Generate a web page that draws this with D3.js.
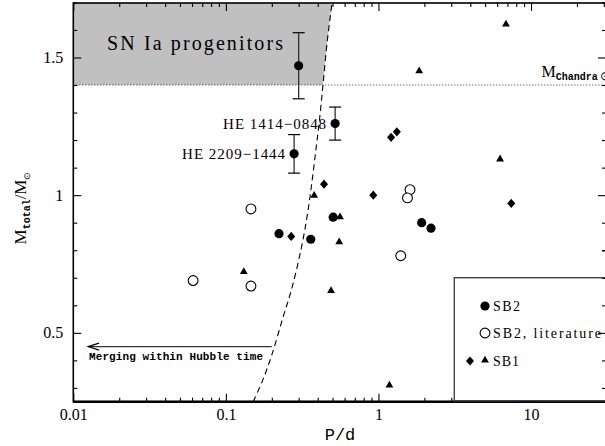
<!DOCTYPE html>
<html>
<head>
<meta charset="utf-8">
<script src="https://cdn.jsdelivr.net/npm/d3@7"></script>
<style>
body{margin:0;background:#fff;}
svg{display:block;}
</style>
</head>
<body>
<svg id="chart" width="605" height="446"></svg>
<script>
// SB2 (filled circles), first three carry error bars and names
var sb2P = [0.30, 0.52, 0.28, 0.505, 0.36, 0.223, 1.92, 2.21];
var sb2M = [1.47, 1.26, 1.15, 0.92, 0.84, 0.86, 0.90, 0.88];
var errLo = [1.35, 1.20, 1.08];
var errHi = [1.59, 1.32, 1.22];
var sb2Names = ["", "HE 1414\u22120848", "HE 2209\u22121444"];

// SB2 from the literature (open circles)
var litP = [0.061, 0.146, 0.146, 1.61, 1.55, 1.40];
var litM = [0.69, 0.67, 0.95, 1.02, 0.99, 0.78];

// SB1, diamonds and triangles
var diaP = [0.268, 0.44, 0.925, 1.21, 1.32, 7.42];
var diaM = [0.85, 1.04, 1.00, 1.21, 1.23, 0.97];
var triP = [0.131, 0.379, 0.56, 0.553, 0.489, 1.18, 1.85, 6.85, 6.27];
var triM = [0.723, 1.00, 0.922, 0.831, 0.654, 0.311, 1.452, 1.622, 1.132];

// merging within a Hubble time limit (dashed)
var hubbleP = [0.151, 0.175, 0.200, 0.235, 0.270, 0.310, 0.340, 0.365, 0.390, 0.410, 0.433, 0.460, 0.497];
var hubbleM = [0.25, 0.33, 0.42, 0.55, 0.66, 0.80, 0.92, 1.04, 1.17, 1.27, 1.40, 1.55, 1.70];

var mChandra = 1.4;
var arrowP = [0.2, 0.0125];
var arrowM = 0.45;

var xMajor = [0.01, 0.1, 1, 10];
var xLabels = ["0.01", "0.1", "1", "10"];
var yMajor = [0.5, 1, 1.5];
var yLabels = ["0.5", "1", "1.5"];

var pLeft = 73.3, pRight = 606, pTop = 3, pBottom = 401.7;
var serif = "'Liberation Serif', 'Times New Roman', serif";
var mono = "'Liberation Mono', 'Courier New', monospace";

var svg = d3.select("#chart");

var x = d3.scaleLog().domain([0.01, 31]).range([pLeft, pRight]);
var y = d3.scaleLinear().domain([0.25, 1.7]).range([pBottom, pTop - 0.6]);

svg.append("defs").append("clipPath").attr("id", "plotclip")
    .append("rect").attr("x", pLeft).attr("y", pTop).attr("width", pRight - pLeft).attr("height", pBottom - pTop);

var plot = svg.append("g").attr("clip-path", "url(#plotclip)");

// SN Ia progenitor region
var hub = hubbleP.map(function(p, i){ return [p, hubbleM[i]]; });
var region = [[0.01, mChandra]].concat(hub.filter(function(d){ return d[1] >= mChandra; })).concat([[0.01, 1.7]]);
plot.append("path")
    .attr("d", d3.line().x(function(d){ return x(d[0]); }).y(function(d){ return y(d[1]); })(region) + "Z")
    .style("fill", "#c0c0c0")
    .style("stroke", "none");

// Chandrasekhar mass
plot.append("line")
    .attr("x1", pLeft).attr("x2", pRight)
    .attr("y1", y(mChandra)).attr("y2", y(mChandra))
    .style("stroke", "#333")
    .style("stroke-width", 1)
    .style("stroke-dasharray", "1,2");

plot.append("path")
    .attr("d", d3.line().curve(d3.curveCatmullRom)
        .x(function(d){ return x(d[0]); }).y(function(d){ return y(d[1]); })(hub))
    .style("fill", "none")
    .style("stroke", "#000")
    .style("stroke-width", 1.1)
    .style("stroke-dasharray", "6,4");

// frame
svg.append("rect")
    .attr("x", pLeft).attr("y", pTop)
    .attr("width", pRight - pLeft).attr("height", pBottom - pTop)
    .style("fill", "none").style("stroke", "#000").style("stroke-width", 1.6);
svg.append("line")
    .attr("x1", pLeft).attr("x2", pRight).attr("y1", pBottom).attr("y2", pBottom)
    .style("stroke", "#000").style("stroke-width", 2.6);

// ticks
var xMinor = x.ticks().filter(function(t){ return xMajor.indexOf(t) < 0; });
var yMinor = y.ticks(15).filter(function(t){
    return yMajor.every(function(m){ return Math.abs(m - t) > 1e-6; });
});

function drawAxis(axis, tx, ty){
    var g = svg.append("g").attr("transform", "translate(" + tx + "," + ty + ")").call(axis);
    g.select(".domain").remove();
    g.selectAll("line").style("stroke", "#000").style("stroke-width", 1.1);
    g.selectAll("text").style("font-family", serif).style("font-size", "16px").style("fill", "#000");
    return g;
}

drawAxis(d3.axisBottom(x).tickValues(xMajor).tickSize(-8).tickPadding(7)
    .tickFormat(function(d, i){ return xLabels[i]; }), 0, pBottom);
drawAxis(d3.axisBottom(x).tickValues(xMinor).tickSize(-4).tickFormat(""), 0, pBottom);
drawAxis(d3.axisTop(x).tickValues(xMajor).tickSize(-8).tickFormat(""), 0, pTop);
drawAxis(d3.axisTop(x).tickValues(xMinor).tickSize(-4).tickFormat(""), 0, pTop);

drawAxis(d3.axisLeft(y).tickValues(yMajor).tickSize(-8).tickPadding(10)
    .tickFormat(function(d, i){ return yLabels[i]; }), pLeft, 0);
drawAxis(d3.axisLeft(y).tickValues(yMinor).tickSize(-4).tickFormat(""), pLeft, 0);
drawAxis(d3.axisRight(y).tickValues(yMajor).tickSize(-8).tickFormat(""), pRight, 0);
drawAxis(d3.axisRight(y).tickValues(yMinor).tickSize(-4).tickFormat(""), pRight, 0);

// axis titles
svg.append("text")
    .attr("x", 340).attr("y", 440)
    .attr("text-anchor", "middle")
    .style("font-family", mono).style("font-size", "17px")
    .text("P/d");

var ylab = svg.append("text")
    .attr("transform", "translate(26,208) rotate(-90)")
    .attr("text-anchor", "middle")
    .style("font-family", serif).style("font-size", "17px");
ylab.append("tspan").text("M");
ylab.append("tspan").attr("dy", 4).style("font-family", mono).style("font-weight", "bold").style("font-size", "10px").text("total");
ylab.append("tspan").attr("dy", -4).text("/M");
ylab.append("tspan").attr("dy", 4).style("font-size", "9px").text("\u2299");

// error bars
var errG = svg.append("g");
errLo.forEach(function(lo, i){
    var cx = x(sb2P[i]);
    errG.append("line").attr("x1", cx).attr("x2", cx).attr("y1", y(lo)).attr("y2", y(errHi[i]))
        .style("stroke", "#222").style("stroke-width", 1.2);
    [lo, errHi[i]].forEach(function(v){
        errG.append("line").attr("x1", cx - 6).attr("x2", cx + 6).attr("y1", y(v)).attr("y2", y(v))
            .style("stroke", "#000").style("stroke-width", 1.2);
    });
});

// data points
var diamond = "M0,-4.6L4,0L0,4.6L-4,0Z";
var triangle = "M0,-4.2L3.9,2.6L-3.9,2.6Z";

svg.append("g").selectAll("circle").data(sb2P).enter().append("circle")
    .attr("cx", function(d){ return x(d); })
    .attr("cy", function(d, i){ return y(sb2M[i]); })
    .attr("r", 4.6)
    .style("fill", "#000");

svg.append("g").selectAll("circle").data(litP).enter().append("circle")
    .attr("cx", function(d){ return x(d); })
    .attr("cy", function(d, i){ return y(litM[i]); })
    .attr("r", 4.9)
    .style("fill", "#fff").style("stroke", "#000").style("stroke-width", 1.1);

svg.append("g").selectAll("path").data(diaP).enter().append("path")
    .attr("d", diamond)
    .attr("transform", function(d, i){ return "translate(" + x(d) + "," + y(diaM[i]) + ")"; })
    .style("fill", "#000");

svg.append("g").selectAll("path").data(triP).enter().append("path")
    .attr("d", triangle)
    .attr("transform", function(d, i){ return "translate(" + x(d) + "," + y(triM[i]) + ")"; })
    .style("fill", "#000");

// names
sb2Names.forEach(function(n, i){
    if(n === "") return;
    svg.append("text")
        .attr("x", x(sb2P[i]) - 9).attr("y", y(sb2M[i]) + 5)
        .attr("text-anchor", "end")
        .attr("textLength", 103).attr("lengthAdjust", "spacing")
        .style("font-family", serif).style("font-size", "15px")
        .text(n);
});

svg.append("text")
    .attr("x", 107).attr("y", 49.5)
    .attr("textLength", 176).attr("lengthAdjust", "spacing")
    .style("font-family", serif).style("font-size", "20px")
    .text("SN Ia  progenitors");

var mch = svg.append("text")
    .attr("x", 541.5).attr("y", 77)
    .style("font-family", serif).style("font-size", "16px");
mch.append("tspan").text("M");
mch.append("tspan").attr("dy", 3).style("font-family", mono).style("font-weight", "bold").style("font-size", "10px").text("Chandra");
mch.append("tspan").attr("dx", 2).style("font-size", "12px").text("\u2299");

// merging arrow
var ay = y(arrowM);
svg.append("line")
    .attr("x1", x(arrowP[0])).attr("x2", x(arrowP[1])).attr("y1", ay).attr("y2", ay)
    .style("stroke", "#333").style("stroke-width", 1.1);
svg.append("path")
    .attr("d", "M" + (x(arrowP[1]) + 11) + "," + (ay - 3.5) + "L" + x(arrowP[1]) + "," + ay + "L" + (x(arrowP[1]) + 11) + "," + (ay + 3.5))
    .style("fill", "none").style("stroke", "#000").style("stroke-width", 1.1);
svg.append("text")
    .attr("x", 89).attr("y", 360)
    .attr("textLength", 174).attr("lengthAdjust", "spacing")
    .style("font-family", mono).style("font-weight", "bold").style("font-size", "11px")
    .text("Merging within Hubble time");

// legend
var leg = svg.append("g");
leg.append("rect")
    .attr("x", 454.3).attr("y", 277.7).attr("width", 200).attr("height", 123)
    .style("fill", "#fff").style("stroke", "#444").style("stroke-width", 1.4);
leg.append("circle").attr("cx", 485).attr("cy", 306).attr("r", 4.6).style("fill", "#000");
leg.append("circle").attr("cx", 485).attr("cy", 333).attr("r", 4.9)
    .style("fill", "#fff").style("stroke", "#000").style("stroke-width", 1.1);
leg.append("path").attr("d", diamond).attr("transform", "translate(470,361)").style("fill", "#000");
leg.append("path").attr("d", triangle).attr("transform", "translate(485,360)").style("fill", "#000");
var legTexts = [["SB2", 311, 27], ["SB2, literature", 337.5, 108], ["SB1", 365.5, 26]];
legTexts.forEach(function(t){
    leg.append("text").attr("x", 493).attr("y", t[1])
        .attr("textLength", t[2]).attr("lengthAdjust", "spacing")
        .style("font-family", serif).style("font-size", "14px")
        .text(t[0]);
});
// right axis ticks show over the legend box
drawAxis(d3.axisRight(y).tickValues(yMajor.filter(function(v){ return v < 0.9; })).tickSize(-8).tickFormat(""), pRight, 0);
drawAxis(d3.axisRight(y).tickValues(yMinor.filter(function(v){ return v < 0.9; })).tickSize(-4).tickFormat(""), pRight, 0);
</script>
</body>
</html>
